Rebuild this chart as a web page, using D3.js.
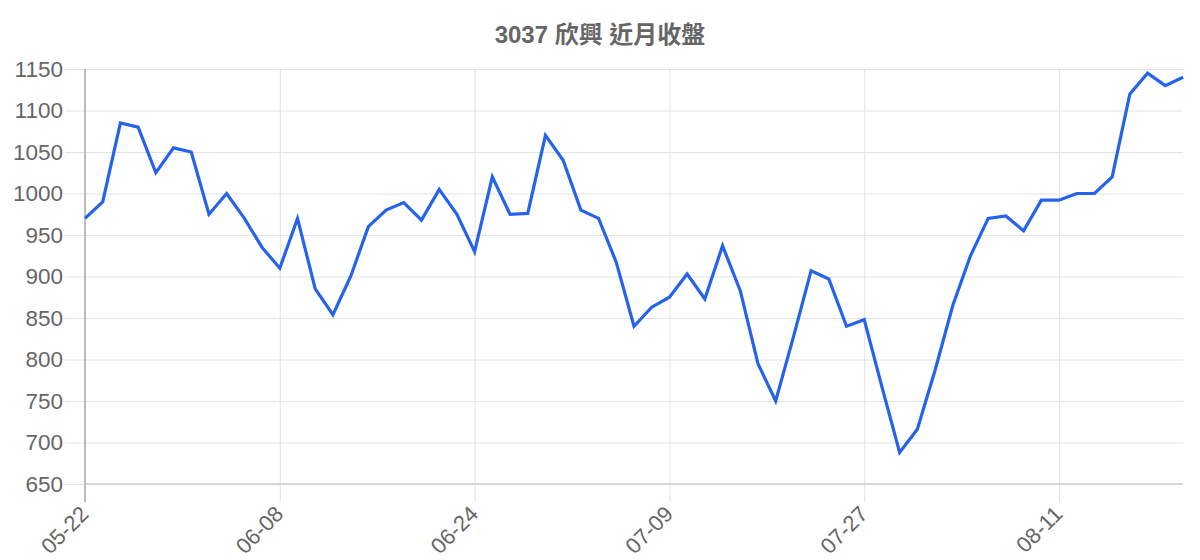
<!DOCTYPE html>
<html>
<head>
<meta charset="utf-8">
<title>3037 欣興 近月收盤</title>
<script src="https://d3js.org/d3.v7.min.js"></script>
<style>
  html, body { margin: 0; padding: 0; background: #fff; }
  text { font-family: "Liberation Sans", Arial, "Noto Sans CJK TC", sans-serif; }
</style>
</head>
<body>
<div id="chart"></div>
<script>
// trading days shown on the x axis
const dates = [
  "05-22", "05-25", "05-26", "05-27", "05-28", "05-29",
  "06-01", "06-02", "06-03", "06-04", "06-05",
  "06-08", "06-09", "06-10", "06-11", "06-12",
  "06-15", "06-16", "06-17", "06-18",
  "06-22", "06-23", "06-24", "06-25", "06-26",
  "06-29", "06-30", "07-01", "07-02", "07-03",
  "07-06", "07-07", "07-08", "07-09", "07-10",
  "07-13", "07-14", "07-15", "07-16", "07-17",
  "07-20", "07-21", "07-22", "07-23",
  "07-27", "07-28", "07-29", "07-30", "07-31",
  "08-03", "08-04", "08-05", "08-06", "08-07",
  "08-10", "08-11", "08-12", "08-13", "08-14",
  "08-17", "08-18", "08-19", "08-20"
];

// closing prices
const closes = [
  970, 990, 1085, 1080, 1025, 1055, 1050, 975, 1000, 970,
  935, 910, 970, 885, 854, 900, 960, 980, 989, 968,
  1005, 975, 930, 1020, 975, 976, 1070, 1040, 980, 970,
  917, 840, 863, 875, 903, 873, 937, 883, 795, 750,
  827, 907, 897, 840, 848, 767, 688, 716, 787, 865,
  925, 970, 973, 955, 992, 992, 1000, 1000, 1020, 1120,
  1145, 1130, 1140
];

const yTicks = [650, 700, 750, 800, 850, 900, 950, 1000, 1050, 1100, 1150];
const xTickLabels = ["05-22", "06-08", "06-24", "07-09", "07-27", "08-11"];

const title = "3037 欣興 近月收盤";

const width = 1200, height = 560;
const margin = {top: 69, right: 17, bottom: 76, left: 85};
const w = width - margin.left - margin.right;
const h = height - margin.top - margin.bottom;

const svg = d3.select("#chart")
  .append("svg")
    .attr("width", width)
    .attr("height", height);

svg.append("text")
  .attr("x", 600)
  .attr("y", 43)
  .attr("text-anchor", "middle")
  .attr("font-size", "24px")
  .attr("font-weight", "bold")
  .attr("fill", "#666")
  .text(title);

const g = svg.append("g")
  .attr("transform", "translate(" + margin.left + "," + margin.top + ")");

const xScale = d3.scalePoint()
  .domain(d3.range(dates.length))
  .range([0, w]);

const yScale = d3.scaleLinear()
  .domain([650, 1150])
  .range([h, 0]);

// horizontal grid + left ticks
const yAxis = d3.axisLeft(yScale)
  .tickValues(yTicks)
  .tickSize(20)
  .tickPadding(2)
  .tickFormat(d3.format("d"));

const yG = g.append("g").call(yAxis);
yG.select(".domain").remove();
yG.selectAll(".tick line").attr("stroke", "#e2e2e2").attr("x2", -20);
yG.selectAll(".tick").append("line")
  .attr("x1", 0).attr("x2", w)
  .attr("stroke", "#e2e2e2");
yG.selectAll(".tick text")
  .attr("font-size", "22.5px")
  .attr("fill", "#666")
  .attr("font-family", "\"Liberation Sans\", Arial, sans-serif");

// vertical grid at the shown dates
const xIdx = xTickLabels.map(d => dates.indexOf(d));
const xAxis = d3.axisBottom(xScale)
  .tickValues(xIdx)
  .tickSize(18)
  .tickFormat(i => dates[i]);

const xG = g.append("g")
  .attr("transform", "translate(0," + h + ")")
  .call(xAxis);
xG.select(".domain").remove();
xG.selectAll(".tick line").attr("stroke", "#e2e2e2");
xG.selectAll(".tick").append("line")
  .attr("y1", 0).attr("y2", -h)
  .attr("stroke", "#e2e2e2");
xG.selectAll(".tick text")
  .attr("font-size", "22px")
  .attr("fill", "#666")
  .attr("font-family", "\"Liberation Sans\", Arial, sans-serif")
  .attr("text-anchor", "end")
  .attr("y", 0)
  .attr("dy", "0.35em")
  .attr("transform", "translate(-1,26) rotate(-45)");

// axis borders
g.append("line")
  .attr("x1", 0).attr("x2", w)
  .attr("y1", h).attr("y2", h)
  .attr("stroke", "#cccccc")
  .attr("stroke-width", 1.5);
g.append("line")
  .attr("x1", 0).attr("x2", 0)
  .attr("y1", 0).attr("y2", h + 18)
  .attr("stroke", "#aaaaaa")
  .attr("stroke-width", 1.5);

const line = d3.line()
  .x((d, i) => xScale(i))
  .y(d => yScale(d));

g.append("path")
  .datum(closes)
  .attr("fill", "none")
  .attr("stroke", "#2563eb")
  .attr("stroke-width", 3.2)
  .attr("stroke-linejoin", "miter")
  .attr("d", line);
</script>
</body>
</html>
